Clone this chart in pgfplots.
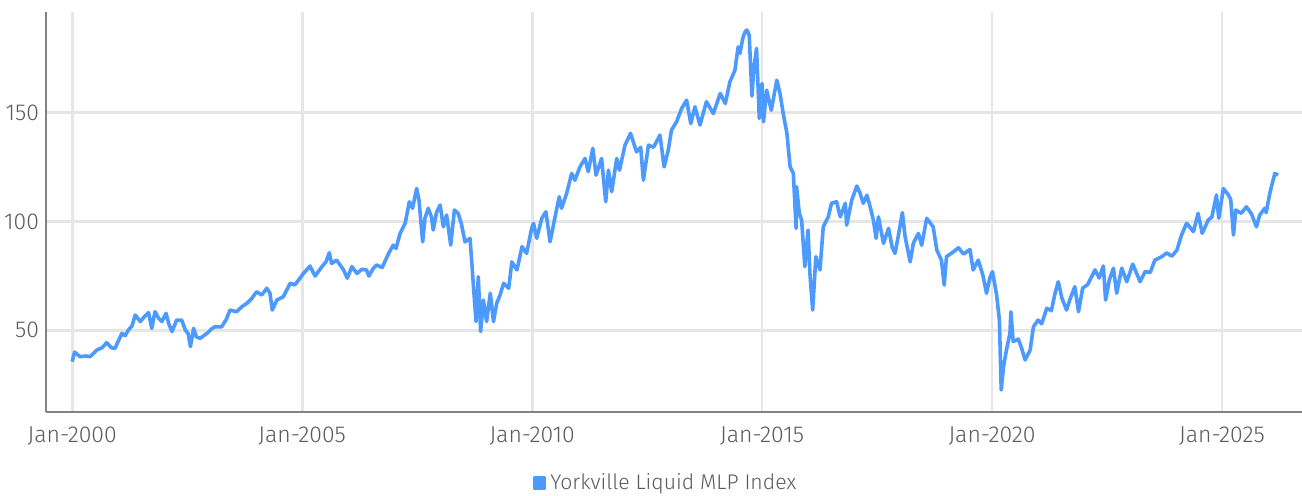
\documentclass[border=0pt]{standalone}
\usepackage{fontspec}
\setmainfont{Fira Sans}[UprightFont=* Light]
\usepackage{pgfplots}
\pgfplotsset{compat=1.18}
\definecolor{serie}{RGB}{77,154,255}
\definecolor{txt}{RGB}{90,90,90}
\definecolor{grd}{RGB}{230,230,230}
\definecolor{axl}{RGB}{130,130,130}
\begin{document}
\begin{tikzpicture}
\begin{axis}[
  at={(0,0)}, anchor=south west,
  scale only axis, width=628pt, height=200pt,
  xmin=1999.43, xmax=2026.74, ymin=12.5, ymax=196.1,
  axis x line=bottom, axis y line=left,
  axis line style={-, draw=axl, line width=0.85pt},
  xtick={2000,2005,2010,2015,2020,2025},
  xticklabels={Jan-2000,Jan-2005,Jan-2010,Jan-2015,Jan-2020,Jan-2025},
  ytick={50,100,150},
  major tick length=0pt,
  grid=major, major grid style={draw=grd, line width=1.4pt},
  tick label style={font=\fontsize{11.5}{14}\selectfont, text=txt},
  /pgf/number format/assume math mode=true,
  xticklabel style={yshift=-4pt},
  legend style={at={(0.494,-0.1775)}, anchor=center, draw=none, fill=none,
    font=\fontsize{10.6}{13}\selectfont, text=txt, inner sep=0pt},
  legend cell align=left,
  legend image code/.code={\fill[serie] (0.6pt,-2.5pt) rectangle (5.6pt,2.5pt);},
]
\addplot[serie, line width=1.8pt, line join=round] coordinates {
(2000.00,35.6) (2000.05,40.0) (2000.17,37.9) (2000.30,38.2) (2000.39,37.9)
(2000.54,41.0) (2000.65,42.0) (2000.75,44.3) (2000.85,42.0) (2000.93,41.7)
(2001.08,48.6) (2001.15,47.5) (2001.22,50.1) (2001.30,52.0) (2001.37,57.0)
(2001.48,54.0) (2001.58,56.5) (2001.66,58.1) (2001.73,50.9) (2001.80,58.5)
(2001.88,55.5) (2001.95,54.0) (2002.04,57.8) (2002.10,53.0) (2002.17,49.4)
(2002.27,54.7) (2002.38,54.7) (2002.46,50.1) (2002.52,48.5) (2002.57,42.5)
(2002.64,50.9) (2002.70,47.0) (2002.78,46.3) (2002.93,48.6) (2003.02,50.5)
(2003.10,51.6) (2003.25,51.6) (2003.35,55.0) (2003.43,59.3) (2003.57,58.5)
(2003.70,61.0) (2003.80,62.4) (2003.90,64.5) (2004.01,67.7) (2004.12,66.2)
(2004.23,69.3) (2004.30,67.0) (2004.35,59.3) (2004.45,63.9) (2004.59,65.4)
(2004.74,71.6) (2004.84,70.8) (2004.92,73.0) (2005.03,76.1) (2005.17,79.5)
(2005.28,74.9) (2005.43,79.2) (2005.52,81.5) (2005.59,85.6) (2005.64,80.7)
(2005.75,82.2) (2005.90,77.7) (2005.98,73.9) (2006.08,79.2) (2006.19,76.1)
(2006.30,78.0) (2006.40,77.7) (2006.45,74.9) (2006.55,78.5) (2006.62,80.0)
(2006.74,78.8) (2006.88,85.3) (2006.98,89.1) (2007.04,87.6) (2007.13,94.5)
(2007.24,99.1) (2007.33,109.0) (2007.40,106.0) (2007.49,115.1) (2007.54,109.8)
(2007.58,100.0) (2007.62,90.6) (2007.67,101.4) (2007.74,106.0) (2007.81,102.1)
(2007.85,96.0) (2007.92,104.0) (2008.00,107.5) (2008.07,97.5) (2008.14,102.9)
(2008.23,89.1) (2008.31,105.2) (2008.39,103.7) (2008.46,99.1) (2008.54,90.6)
(2008.65,92.2) (2008.71,74.6) (2008.78,54.0) (2008.83,74.6) (2008.88,49.4)
(2008.94,63.9) (2009.01,54.0) (2009.09,67.0) (2009.16,54.0) (2009.23,62.4)
(2009.30,66.0) (2009.38,71.6) (2009.49,69.3) (2009.56,81.4) (2009.67,77.7)
(2009.78,88.4) (2009.88,85.3) (2009.99,96.8) (2010.03,99.1) (2010.10,92.2)
(2010.21,101.4) (2010.30,104.4) (2010.39,90.6) (2010.50,102.1) (2010.59,111.3)
(2010.64,106.0) (2010.75,112.8) (2010.86,122.0) (2010.93,118.9) (2011.04,125.0)
(2011.15,128.9) (2011.22,122.8) (2011.32,133.5) (2011.39,121.2) (2011.51,128.9)
(2011.60,109.0) (2011.66,123.5) (2011.73,113.6) (2011.84,128.9) (2011.90,123.5)
(2012.02,135.0) (2012.14,140.4) (2012.27,131.9) (2012.36,134.0) (2012.42,118.9)
(2012.53,135.0) (2012.64,134.0) (2012.78,139.6) (2012.87,125.0) (2012.96,132.7)
(2013.03,141.9) (2013.14,145.7) (2013.25,151.8) (2013.36,155.6) (2013.45,144.9)
(2013.54,152.6) (2013.65,144.2) (2013.79,154.9) (2013.94,149.5) (2014.09,158.7)
(2014.20,154.1) (2014.30,164.0) (2014.41,169.4) (2014.48,180.1) (2014.52,177.1)
(2014.58,184.0) (2014.63,187.0) (2014.67,187.8) (2014.72,185.5) (2014.78,157.5)
(2014.82,170.0) (2014.88,179.4) (2014.94,147.2) (2015.00,163.3) (2015.03,145.7)
(2015.10,160.2) (2015.20,151.0) (2015.32,164.8) (2015.39,158.7) (2015.46,149.5)
(2015.54,140.4) (2015.61,125.0) (2015.68,122.0) (2015.74,96.8) (2015.75,115.9)
(2015.81,103.7) (2015.86,100.6) (2015.93,79.2) (2016.00,96.0) (2016.04,76.1)
(2016.10,59.3) (2016.17,83.8) (2016.26,77.7) (2016.33,97.5) (2016.44,102.1)
(2016.51,108.3) (2016.62,109.0) (2016.70,102.1) (2016.81,108.3) (2016.84,98.3)
(2016.95,109.8) (2017.06,116.2) (2017.13,113.0) (2017.20,108.3) (2017.28,112.0)
(2017.35,106.7) (2017.42,100.6) (2017.48,92.2) (2017.53,102.1) (2017.64,89.9)
(2017.75,96.8) (2017.83,88.0) (2017.89,85.3) (2017.96,93.0) (2018.05,104.0)
(2018.11,93.0) (2018.22,81.4) (2018.29,90.0) (2018.40,94.5) (2018.47,89.0)
(2018.58,101.4) (2018.72,97.5) (2018.80,86.8) (2018.90,82.2) (2018.96,70.8)
(2019.01,83.8) (2019.16,86.0) (2019.27,87.9) (2019.38,85.0) (2019.52,87.1)
(2019.59,77.7) (2019.70,82.2) (2019.80,75.4) (2019.88,67.0) (2019.96,74.6)
(2020.01,76.9) (2020.10,66.2) (2020.16,54.7) (2020.20,22.6) (2020.25,33.3)
(2020.32,41.7) (2020.39,48.6) (2020.41,58.5) (2020.46,44.8) (2020.57,46.0)
(2020.64,42.0) (2020.72,36.4) (2020.83,41.0) (2020.90,51.6) (2021.00,54.7)
(2021.08,53.0) (2021.19,60.1) (2021.29,59.0) (2021.37,67.0) (2021.44,72.3)
(2021.52,64.7) (2021.62,59.3) (2021.69,63.9) (2021.80,70.0) (2021.88,58.5)
(2021.97,69.3) (2022.08,71.0) (2022.24,77.7) (2022.33,74.0) (2022.42,79.5)
(2022.47,63.9) (2022.55,73.1) (2022.64,78.5) (2022.71,67.0) (2022.82,78.5)
(2022.93,72.3) (2023.06,80.4) (2023.22,72.3) (2023.33,77.0) (2023.44,76.5)
(2023.54,82.2) (2023.69,83.8) (2023.80,85.5) (2023.91,84.0) (2024.02,86.8)
(2024.12,93.7) (2024.23,99.1) (2024.38,95.3) (2024.48,103.7) (2024.57,94.5)
(2024.70,100.6) (2024.78,102.0) (2024.88,112.1) (2024.93,101.4) (2025.03,115.1)
(2025.14,112.1) (2025.19,110.0) (2025.25,93.7) (2025.30,105.2) (2025.42,103.7)
(2025.53,106.7) (2025.64,103.5) (2025.75,97.5) (2025.82,102.9) (2025.93,106.0)
(2025.96,104.0) (2026.04,112.8) (2026.10,118.0) (2026.15,122.0) (2026.22,121.2)
};
\addlegendentry{Yorkville Liquid MLP Index}
\end{axis}
\pgfresetboundingbox
\useasboundingbox (-23pt,-42pt) rectangle (628pt,206pt);
\end{tikzpicture}
\end{document}
